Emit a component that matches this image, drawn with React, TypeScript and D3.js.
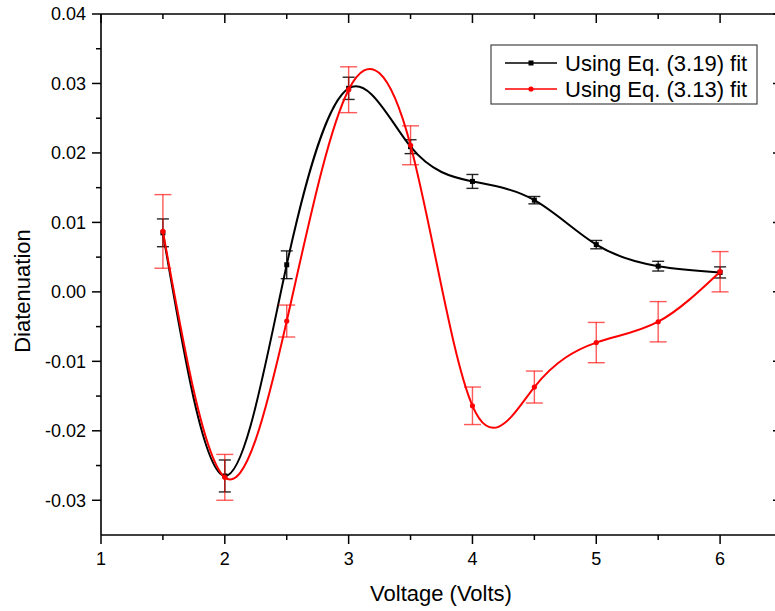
import React from "react";
import * as d3 from "d3";

const voltages = [1.5, 2, 2.5, 3, 3.5, 4, 4.5, 5, 5.5, 6];
const eq319 = [0.0085, -0.0265, 0.0039, 0.0293, 0.0209, 0.0159, 0.0132, 0.0068, 0.0037, 0.0028];
const eq319Err = [0.002, 0.0023, 0.002, 0.0016, 0.001, 0.001, 0.00053, 0.0006, 0.0007, 0.0008];
const eq313 = [0.0087, -0.0267, -0.0042, 0.0291, 0.0211, -0.0164, -0.0137, -0.0073, -0.0043, 0.0029];
const eq313Err = [0.0053, 0.0033, 0.0023, 0.0033, 0.0028, 0.0027, 0.0023, 0.0029, 0.0029, 0.0029];
const xTicks = [1, 2, 3, 4, 5, 6];
const xMinorTicks = [1.5, 2.5, 3.5, 4.5, 5.5];
const yTicks = [0.04, 0.03, 0.02, 0.01, 0, -0.01, -0.02, -0.03];
const yMinorTicks = [0.035, 0.025, 0.015, 0.005, -0.005, -0.015, -0.025];
const seriesNames = ["Using Eq. (3.19) fit", "Using Eq. (3.13) fit"];

const W = 775;
const H = 611;
const L = 101;
const R = 782;
const T = 14;
const B = 535;
const FONT = "'Liberation Sans', Arial, sans-serif";

export default function App() {
  const x = d3.scaleLinear().domain([1, 6.5]).range([L, R]);
  const y = d3.scaleLinear().domain([-0.035, 0.04]).range([B, T]);

  const line = d3
    .line<[number, number]>()
    .x((d) => x(d[0]))
    .y((d) => y(d[1]))
    .curve(d3.curveNatural);

  const black = voltages.map((v, i) => [v, eq319[i]] as [number, number]);
  const red = voltages.map((v, i) => [v, eq313[i]] as [number, number]);

  const errBars = (vals: number[], errs: number[], color: string, cap: number, op: number) =>
    voltages.map((v, i) => {
      const cx = x(v);
      const y1 = y(vals[i] + errs[i]);
      const y2 = y(vals[i] - errs[i]);
      return (
        <g key={i} stroke={color} strokeWidth={1.4} strokeOpacity={op}>
          <line x1={cx} x2={cx} y1={y1} y2={y2} />
          <line x1={cx - cap / 2} x2={cx + cap / 2} y1={y1} y2={y1} />
          <line x1={cx - cap / 2} x2={cx + cap / 2} y1={y2} y2={y2} />
        </g>
      );
    });

  return (
    <svg
      width={W}
      height={H}
      style={{ position: "absolute", left: 0, top: 0, background: "#fff" }}
      fontFamily={FONT}
    >
      <rect x={0} y={0} width={W} height={H} fill="#fff" />
      {/* frame */}
      <g stroke="#000" strokeWidth={1.6} fill="none">
        <line x1={L} x2={R} y1={B} y2={B} />
        <line x1={L} x2={R} y1={T} y2={T} />
        <line x1={L} x2={L} y1={T} y2={B} />
        <line x1={R} x2={R} y1={T} y2={B} />
      </g>
      {/* x ticks */}
      <g stroke="#000" strokeWidth={1.5}>
        {xTicks.map((t) => (
          <g key={"xt" + t}>
            <line x1={x(t)} x2={x(t)} y1={B} y2={B + 9} />
            <line x1={x(t)} x2={x(t)} y1={T} y2={T + 9} />
          </g>
        ))}
        {xMinorTicks.map((t) => (
          <g key={"xm" + t}>
            <line x1={x(t)} x2={x(t)} y1={B} y2={B + 5} />
            <line x1={x(t)} x2={x(t)} y1={T} y2={T + 5} />
          </g>
        ))}
        {yTicks.map((t) => (
          <g key={"yt" + t}>
            <line x1={L - 9} x2={L} y1={y(t)} y2={y(t)} />
            <line x1={R - 9} x2={R} y1={y(t)} y2={y(t)} />
          </g>
        ))}
        {yMinorTicks.map((t) => (
          <g key={"ym" + t}>
            <line x1={L - 5} x2={L} y1={y(t)} y2={y(t)} />
            <line x1={R - 5} x2={R} y1={y(t)} y2={y(t)} />
          </g>
        ))}
      </g>
      {/* tick labels */}
      <g fontSize={18} fill="#000">
        {xTicks.map((t) => (
          <text key={"xl" + t} x={x(t)} y={565} textAnchor="middle">
            {t}
          </text>
        ))}
        {yTicks.map((t) => (
          <text key={"yl" + t} x={86} y={y(t)} dy="0.35em" textAnchor="end">
            {d3.format(".2f")(t).replace("−", "-")}
          </text>
        ))}
      </g>
      {/* axis titles */}
      <text x={441} y={601} fontSize={22} textAnchor="middle" fill="#000">
        Voltage (Volts)
      </text>
      <text
        transform="translate(30,291) rotate(-90)"
        fontSize={22}
        textAnchor="middle"
        fill="#000"
      >
        Diatenuation
      </text>
      {/* series */}
      <path d={line(black) || ""} fill="none" stroke="#000" strokeWidth={2} />
      {errBars(eq319, eq319Err, "#000", 12, 0.85)}
      {black.map((d, i) => (
        <rect key={"bm" + i} x={x(d[0]) - 2.5} y={y(d[1]) - 2.5} width={5} height={5} fill="#000" />
      ))}
      <path d={line(red) || ""} fill="none" stroke="#f00" strokeWidth={2} />
      {errBars(eq313, eq313Err, "#f00", 17, 0.65)}
      {red.map((d, i) => (
        <circle key={"rm" + i} cx={x(d[0])} cy={y(d[1])} r={2.6} fill="#f00" />
      ))}
      {/* legend */}
      <rect x={491} y={45} width={266} height={59} fill="#fff" stroke="#444" strokeWidth={1.2} />
      <line x1={505} x2={557} y1={63} y2={63} stroke="#000" strokeWidth={1.6} />
      <rect x={528.5} y={60.5} width={5} height={5} fill="#000" />
      <text x={565} y={63} dy="0.35em" fontSize={22} fill="#000">
        {seriesNames[0]}
      </text>
      <line x1={505} x2={557} y1={89} y2={89} stroke="#f00" strokeWidth={1.6} />
      <circle cx={531} cy={89} r={2.6} fill="#f00" />
      <text x={565} y={89} dy="0.35em" fontSize={22} fill="#000">
        {seriesNames[1]}
      </text>
    </svg>
  );
}
